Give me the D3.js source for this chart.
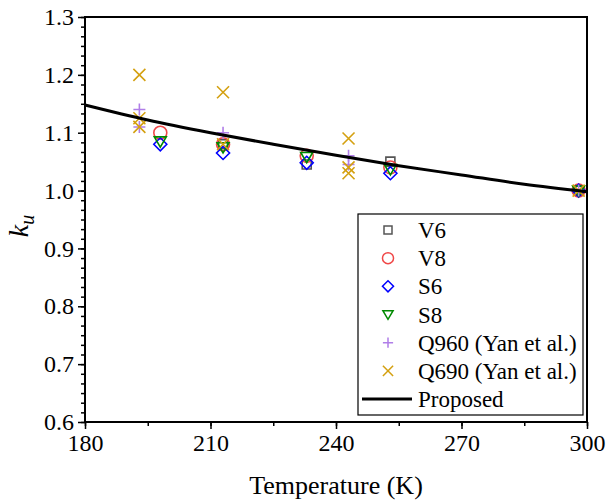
<!DOCTYPE html>
<html>
<head>
<meta charset="utf-8">
<script src="https://cdn.jsdelivr.net/npm/d3@7"></script>
<style>
  html, body { margin: 0; padding: 0; background: #fff; }
  svg { display: block; }
</style>
</head>
<body>
<svg id="chart" width="606" height="503"></svg>
<script>
// Measured strength factor k_u versus temperature
const v6Temp = [213, 233, 253, 298];
const v6Ku = [1.08, 1.045, 1.05, 1.0];

const v8Temp = [198, 213, 233, 253, 298];
const v8Ku = [1.10, 1.08, 1.06, 1.04, 1.0];

const s6Temp = [198, 213, 233, 253, 298];
const s6Ku = [1.08, 1.065, 1.048, 1.03, 1.0];

const s8Temp = [198, 213, 233, 253, 298];
const s8Ku = [1.085, 1.075, 1.058, 1.037, 1.0];

const q960Temp = [193, 193, 213, 243, 243, 298];
const q960Ku = [1.14, 1.11, 1.10, 1.06, 1.045, 1.0];

const q690Temp = [193, 193, 193, 213, 213, 243, 243, 243, 298];
const q690Ku = [1.20, 1.125, 1.11, 1.17, 1.08, 1.09, 1.04, 1.03, 1.0];

// Proposed model curve, sampled along the temperature range
const proposedTemp = [180, 195, 210, 225, 240, 255, 270, 285, 300];
const proposedKu = [1.148, 1.122, 1.100, 1.080, 1.061, 1.043, 1.027, 1.011, 0.998];

// Axis ticks
const xTicks = [180, 210, 240, 270, 300];
const yTicks = [0.6, 0.7, 0.8, 0.9, 1.0, 1.1, 1.2, 1.3];

const legendLabels = ["V6", "V8", "S6", "S8", "Q960 (Yan et al.)", "Q690 (Yan et al.)", "Proposed"];

const FONT = "Liberation Serif";

const svg = d3.select("#chart");
const plotLeft = 85, plotRight = 587, plotTop = 17, plotBottom = 422;

const x = d3.scaleLinear().domain([180, 300]).range([plotLeft, plotRight]);
const y = d3.scaleLinear().domain([0.6, 1.3]).range([plotBottom, plotTop]);

// Minor ticks
const xMinor = d3.range(180, 300.001, 15);
const yMinor = d3.range(0, 43).map(i => 0.6 + i * 0.1 / 6);

const axisG = svg.append("g");

axisG.append("g").attr("transform", `translate(0,${plotBottom})`)
  .call(d3.axisBottom(x).tickValues(xMinor).tickSize(4).tickFormat(""))
  .call(g => g.select(".domain").remove())
  .selectAll("line").attr("stroke", "#000").attr("stroke-width", 1.5);

axisG.append("g").attr("transform", `translate(${plotLeft},0)`)
  .call(d3.axisLeft(y).tickValues(yMinor).tickSize(4).tickFormat(""))
  .call(g => g.select(".domain").remove())
  .selectAll("line").attr("stroke", "#000").attr("stroke-width", 1.5);

const xAxis = axisG.append("g").attr("transform", `translate(0,${plotBottom})`)
  .attr("font-family", FONT)
  .call(d3.axisBottom(x).tickValues(xTicks).tickSize(7).tickPadding(5).tickFormat(d3.format("d")));
xAxis.attr("font-family", FONT).attr("font-size", 24);
xAxis.select(".domain").remove();
xAxis.selectAll("line").attr("stroke", "#000").attr("stroke-width", 1.5);
xAxis.selectAll("text").style("font-family", FONT).style("font-size", "24px").attr("fill", "#000");

const yAxis = axisG.append("g").attr("transform", `translate(${plotLeft},0)`)
  .call(d3.axisLeft(y).tickValues(yTicks).tickSize(7).tickPadding(4).tickFormat(d3.format(".1f")));
yAxis.attr("font-family", FONT).attr("font-size", 24);
yAxis.select(".domain").remove();
yAxis.selectAll("line").attr("stroke", "#000").attr("stroke-width", 1.5);
yAxis.selectAll("text").style("font-family", FONT).style("font-size", "24px").attr("fill", "#000");

// Plot frame
svg.append("rect")
  .attr("x", plotLeft).attr("y", plotTop)
  .attr("width", plotRight - plotLeft).attr("height", plotBottom - plotTop)
  .attr("fill", "none").attr("stroke", "#000").attr("stroke-width", 2);

// Marker symbols
const symbolPath = {
  square: s => `M${-s},${-s}H${s}V${s}H${-s}Z`,
  circle: s => `M${s},0A${s},${s} 0 1,1 ${-s},0A${s},${s} 0 1,1 ${s},0Z`,
  diamond: s => `M0,${-s}L${s},0L0,${s}L${-s},0Z`,
  triangle: s => `M${-s},${-s * 0.75}L${s},${-s * 0.75}L0,${s * 0.95}Z`,
  plus: s => `M${-s},0H${s}M0,${-s}V${s}`,
  cross: s => `M${-s},${-s}L${s},${s}M${-s},${s}L${s},${-s}`
};

const series = [
  { temp: v6Temp, ku: v6Ku, shape: "square", size: 4.5, color: "#555555" },
  { temp: v8Temp, ku: v8Ku, shape: "circle", size: 6.5, color: "#f04848" },
  { temp: s6Temp, ku: s6Ku, shape: "diamond", size: 6.5, color: "#0000ff" },
  { temp: s8Temp, ku: s8Ku, shape: "triangle", size: 6, color: "#008a00" },
  { temp: q960Temp, ku: q960Ku, shape: "plus", size: 6, color: "#b07ee8" },
  { temp: q690Temp, ku: q690Ku, shape: "cross", size: 6, color: "#d4a010" }
];

const markG = svg.append("g");
series.forEach(s => {
  markG.append("g").selectAll("path")
    .data(s.temp.map((t, i) => [t, s.ku[i]]))
    .join("path")
    .attr("transform", d => `translate(${x(d[0])},${y(d[1])})`)
    .attr("d", symbolPath[s.shape](s.size))
    .attr("fill", "none")
    .attr("stroke", s.color)
    .attr("stroke-width", 1.6);
});

// Proposed curve
const line = d3.line()
  .x((d, i) => x(proposedTemp[i]))
  .y(d => y(d))
  .curve(d3.curveMonotoneX);

svg.append("path")
  .datum(proposedKu)
  .attr("d", line)
  .attr("fill", "none")
  .attr("stroke", "#000")
  .attr("stroke-width", 3);

// Axis titles
svg.append("text")
  .attr("x", (plotLeft + plotRight) / 2).attr("y", 494)
  .attr("text-anchor", "middle")
  .style("font-family", FONT).style("font-size", "26px")
  .attr("fill", "#000")
  .text("Temperature (K)");

const yTitle = svg.append("text")
  .attr("transform", "translate(28,226) rotate(-90)")
  .attr("text-anchor", "middle")
  .style("font-family", FONT).style("font-size", "28px")
  .style("font-style", "italic")
  .attr("fill", "#000");
yTitle.append("tspan").text("k");
yTitle.append("tspan").style("font-size", "20px").attr("dy", 6).text("u");

// Legend
const legend = svg.append("g");
legend.append("rect")
  .attr("x", 358).attr("y", 214)
  .attr("width", 225).attr("height", 201)
  .attr("fill", "#fff").attr("stroke", "#000").attr("stroke-width", 1.2);

const legendY = d3.scalePoint().domain(legendLabels).range([230, 399]);
legendLabels.forEach((label, i) => {
  const cy = legendY(label);
  if (i < series.length) {
    const s = series[i];
    legend.append("path")
      .attr("transform", `translate(388,${cy})`)
      .attr("d", symbolPath[s.shape](s.shape === "square" ? 4 : s.size * 0.85))
      .attr("fill", "none")
      .attr("stroke", s.color)
      .attr("stroke-width", 1.5);
  } else {
    legend.append("line")
      .attr("x1", 362).attr("x2", 412)
      .attr("y1", cy).attr("y2", cy)
      .attr("stroke", "#000").attr("stroke-width", 3);
  }
  legend.append("text")
    .attr("x", 418).attr("y", cy + 8)
    .style("font-family", FONT).style("font-size", "23px")
    .attr("fill", "#000")
    .text(label);
});
</script>
</body>
</html>
